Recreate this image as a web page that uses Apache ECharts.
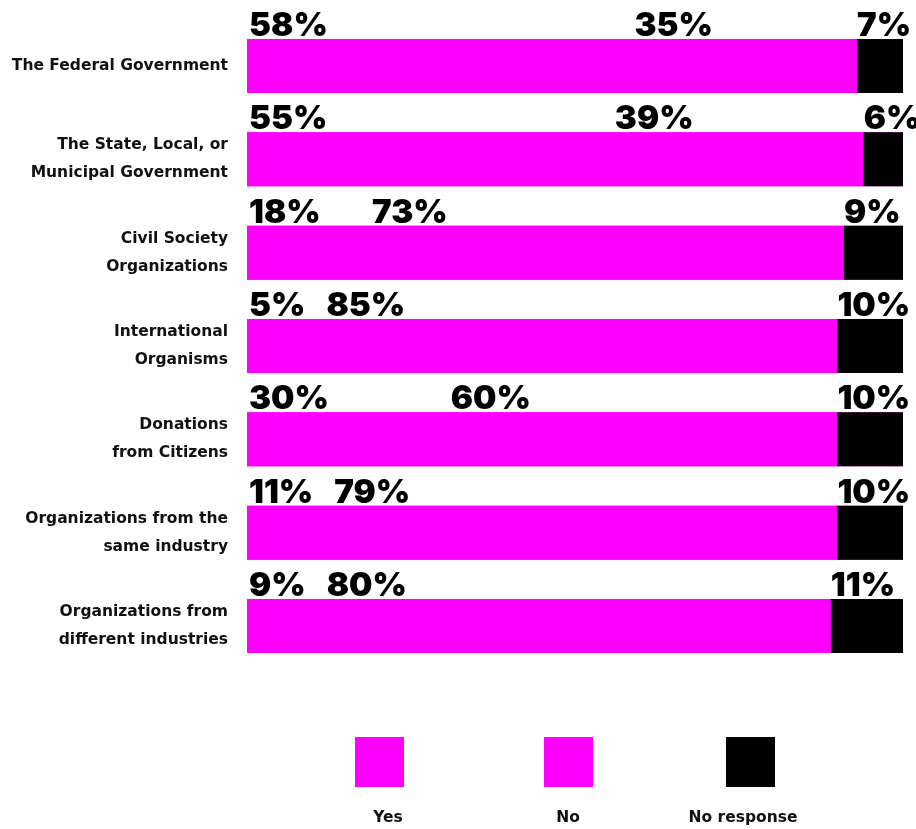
<!DOCTYPE html>
<html>
<head>
<meta charset="utf-8">
<script src="https://cdn.jsdelivr.net/npm/echarts@6/dist/echarts.min.js"></script>
<style>
html,body{margin:0;padding:0;background:#fff;}
#chart{width:916px;height:829px;}
</style>
</head>
<body>
<div id="chart"></div>
<script>
const categories = [
  'The Federal Government',
  'The State, Local, or\nMunicipal Government',
  'Civil Society\nOrganizations',
  'International\nOrganisms',
  'Donations\nfrom Citizens',
  'Organizations from the\nsame industry',
  'Organizations from\ndifferent industries'
];
const seriesNames = ['Yes', 'No', 'No response'];
const yesValues = [58, 55, 18, 5, 30, 11, 9];
const noValues = [35, 39, 73, 85, 60, 79, 80];
const noResponseValues = [7, 6, 9, 10, 10, 10, 11];

const MAGENTA = '#ff00ff';
const BLACK = '#000000';
const NUM_FAMILY = 'Inter';
const NUM_SIZE = 33;
const CAT_FAMILY = 'DejaVu Sans';

const GRID_LEFT = 247, GRID_RIGHT = 13;
const W = 916;
const pxPerUnit = (W - GRID_LEFT - GRID_RIGHT) / 100;

const ctx = document.createElement('canvas').getContext('2d');
ctx.font = '900 ' + NUM_SIZE + 'px ' + NUM_FAMILY;
function tw(t) { return ctx.measureText(t).width; }

const noData = noValues.map((v, i) => {
  const yesLabelEnd = 2 + tw(yesValues[i] + '%');
  const noStart = yesValues[i] * pxPerUnit;
  const x = Math.max(noStart + 7, yesLabelEnd + 21);
  return { value: v, label: { offset: [x - noStart, 0] } };
});

const numLabel = {
  show: true,
  position: [0, 5],
  align: 'left',
  verticalAlign: 'bottom',
  formatter: '{c}%',
  color: '#000',
  fontFamily: NUM_FAMILY,
  fontWeight: 900,
  fontSize: NUM_SIZE,
  lineHeight: 36
};

const chart = echarts.init(document.getElementById('chart'), null, { renderer: 'canvas' });

const legendX = [355, 544, 726];
const legendTextX = [388, 568, 743];
const legendColors = [MAGENTA, MAGENTA, BLACK];
const graphic = [];
seriesNames.forEach((n, i) => {
  graphic.push({ type: 'rect', left: legendX[i], top: 737, shape: { width: 49, height: 50 }, style: { fill: legendColors[i] } });
  graphic.push({ type: 'text', x: legendTextX[i], y: 818, style: { text: n, fill: '#111', font: 'bold 15.5px "' + CAT_FAMILY + '"', textAlign: 'center', textVerticalAlign: 'middle' } });
});

chart.setOption({
  backgroundColor: '#fff',
  animation: false,
  grid: { left: GRID_LEFT, right: GRID_RIGHT, top: 19.33, bottom: 156.33, containLabel: false },
  xAxis: { type: 'value', min: 0, max: 100, show: false },
  yAxis: {
    type: 'category',
    data: categories,
    inverse: true,
    axisLine: { show: false },
    axisTick: { show: false },
    splitLine: { show: false },
    axisLabel: {
      margin: 19,
      color: '#111',
      fontFamily: CAT_FAMILY,
      fontWeight: 'bold',
      fontSize: 15.5,
      lineHeight: 28,
      align: 'right'
    }
  },
  graphic: graphic,
  series: [
    { name: seriesNames[0], type: 'bar', stack: 'a', data: yesValues, barWidth: 54,
      showBackground: true, backgroundStyle: { color: MAGENTA },
      itemStyle: { color: MAGENTA }, label: Object.assign({}, numLabel, { position: [2, 5] }) },
    { name: seriesNames[1], type: 'bar', stack: 'a', data: noData, barWidth: 54, itemStyle: { color: MAGENTA }, label: numLabel },
    { name: seriesNames[2], type: 'bar', stack: 'a', data: noResponseValues, barWidth: 54, itemStyle: { color: BLACK }, label: numLabel }
  ]
});
</script>
</body>
</html>
